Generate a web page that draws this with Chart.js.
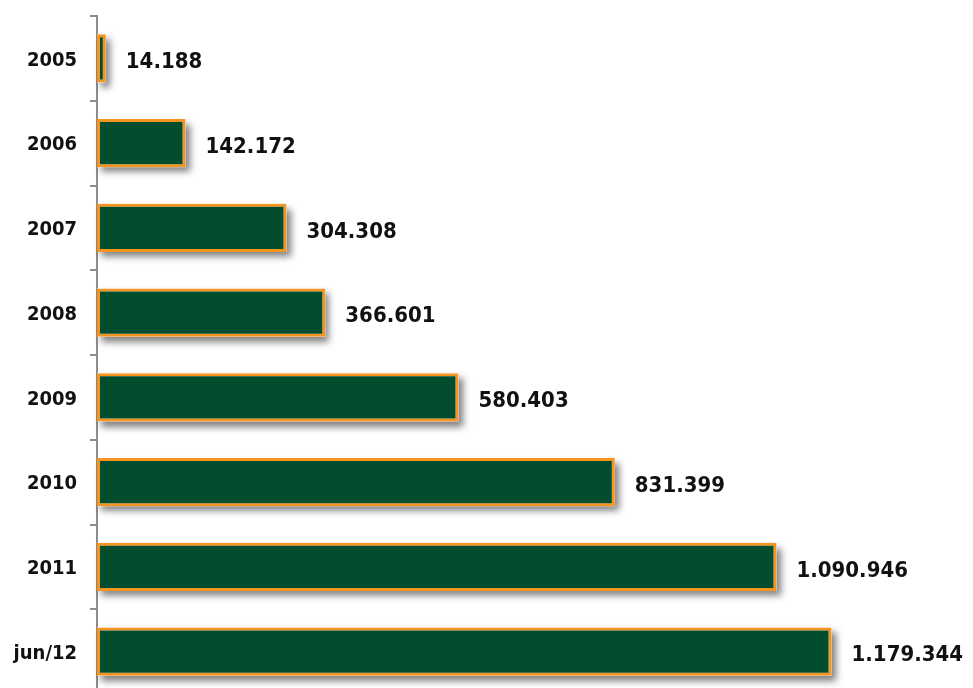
<!DOCTYPE html>
<html>
<head>
<meta charset="utf-8">
<script src="https://cdn.jsdelivr.net/npm/chart.js@4/dist/chart.umd.min.js"></script>
<style>
  html, body { margin: 0; padding: 0; background: #fff; overflow: hidden; }
  #chart { display: block; }
</style>
</head>
<body>
<canvas id="chart" width="973" height="695" style="width:973px;height:695px"></canvas>
<script>
var categories = ['2005', '2006', '2007', '2008', '2009', '2010', '2011', 'jun/12'];
var values = [14188, 142172, 304308, 366601, 580403, 831399, 1090946, 1179344];

function fmt(n) {
    return String(n).replace(/\B(?=(\d{3})+(?!\d))/g, '.');
}

var labelFont = '"DejaVu Sans Condensed", "DejaVu Sans"';

// soft shadow drawn behind each bar
var barShadow = {
    id: 'barShadow',
    beforeDatasetsDraw: function (chart) {
        var c = chart.ctx;
        var meta = chart.getDatasetMeta(0);
        c.save();
        c.shadowColor = 'rgba(0,0,0,0.5)';
        c.shadowBlur = 7;
        c.shadowOffsetX = 4;
        c.shadowOffsetY = 5;
        c.fillStyle = '#fff';
        meta.data.forEach(function (bar) {
            var p = bar.getProps(['x', 'y', 'base', 'height'], true);
            c.fillRect(p.base, p.y - p.height / 2, p.x - p.base, p.height);
        });
        c.restore();
    }
};

// value labels right of the bars
var valueLabels = {
    id: 'valueLabels',
    afterDraw: function (chart) {
        var c = chart.ctx;
        var meta = chart.getDatasetMeta(0);
        c.save();
        c.fillStyle = '#111';
        c.font = 'bold 22px ' + labelFont;
        c.textAlign = 'left';
        c.textBaseline = 'middle';
        meta.data.forEach(function (bar, i) {
            c.fillText(fmt(values[i]), bar.x + 20, bar.y + 4);
        });
        c.restore();
    }
};

var ctx = document.getElementById('chart');
var chart = new Chart(ctx, {
    type: 'bar',
    data: {
        labels: categories,
        datasets: [{
            data: values,
            backgroundColor: '#024D2D',
            borderColor: '#F7941D',
            borderWidth: 3,
            borderSkipped: false,
            barPercentage: 0.57,
            categoryPercentage: 1
        }]
    },
    plugins: [barShadow, valueLabels],
    options: {
        indexAxis: 'y',
        responsive: false,
        animation: false,
        layout: { padding: { top: 16, right: 4, bottom: 1, left: 0 } },
        plugins: {
            legend: { display: false },
            tooltip: { enabled: false }
        },
        scales: {
            x: {
                display: false,
                min: 0,
                max: 1400000
            },
            y: {
                offset: true,
                afterFit: function (s) {
                    s.width = 97;
                    s.paddingTop = 0;
                    s.paddingBottom = 0;
                },
                border: { display: true, color: '#8c8c8c', width: 2 },
                grid: {
                    offset: true,
                    drawOnChartArea: false,
                    drawTicks: true,
                    tickLength: 7,
                    color: '#8c8c8c',
                    lineWidth: 2
                },
                ticks: {
                    padding: 13,
                    labelOffset: 2,
                    color: '#111',
                    font: { family: labelFont, size: 20, weight: 'bold' }
                }
            }
        }
    }
});
</script>
</body>
</html>
